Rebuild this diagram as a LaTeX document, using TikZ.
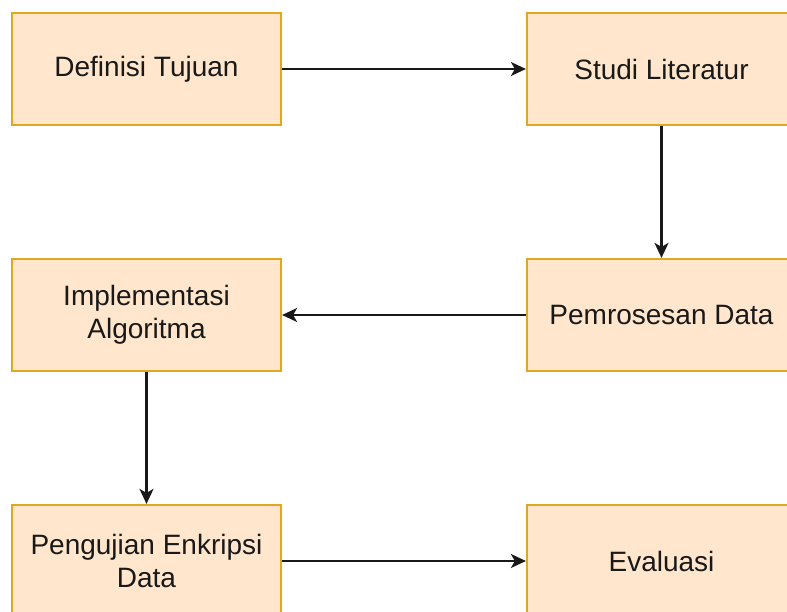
\documentclass[tikz,border=0pt]{standalone}
\usepackage{fontspec}
\setmainfont{Liberation Sans}
\usetikzlibrary{arrows.meta}
\definecolor{boxfill}{HTML}{FFE6CC}
\definecolor{boxline}{HTML}{E0A820}
\tikzset{
  stepbox/.style={draw=boxline, fill=boxfill, line width=2.2pt, minimum width=269pt, minimum height=112pt, inner sep=0pt, align=center, font=\fontsize{28}{33}\selectfont, text=black!90},
  flow/.style={line width=2.2pt, draw=black!90, -{Stealth[length=15pt, width=14pt, inset=4pt]}}
}
\begin{document}
\begin{tikzpicture}[x=1pt, y=-1pt]
\useasboundingbox (0,0) rectangle (787,612);
\clip (0,0) rectangle (787,612);
\node[stepbox] (def) at (146.5,69) {Definisi Tujuan};
\node[stepbox] (stu) at (661.5,69) {Studi Literatur};
\node[stepbox] (pem) at (661.5,315) {Pemrosesan Data};
\node[stepbox] (imp) at (146.5,315) {Implementasi\\Algoritma};
\node[stepbox] (uji) at (146.5,561) {Pengujian Enkripsi\\Data};
\node[stepbox] (eva) at (661.5,561) {Evaluasi};
\draw[flow] (def) -- (stu);
\draw[flow] (stu) -- (pem);
\draw[flow] (pem) -- (imp);
\draw[flow] (imp) -- (uji);
\draw[flow] (uji) -- (eva);
\end{tikzpicture}
\end{document}
